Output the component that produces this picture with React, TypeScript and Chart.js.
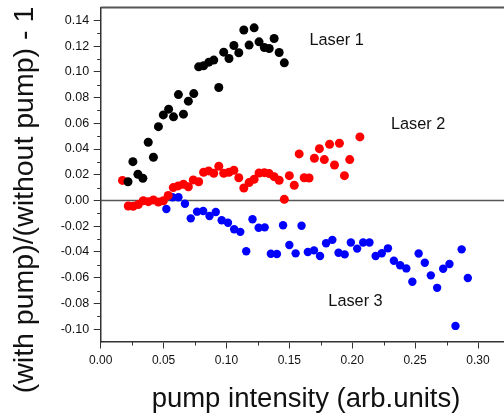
import React, { useEffect, useRef } from 'react';
import { Chart, registerables } from 'chart.js';

Chart.register(...registerables);

// ---------- data ----------
const laser1X = [0.0217, 0.0256, 0.0296, 0.0335, 0.0378, 0.0419, 0.0459, 0.0498, 0.054, 0.0579, 0.0618, 0.0658, 0.0697, 0.074, 0.0779, 0.0818, 0.086, 0.0899, 0.0939, 0.0978, 0.102, 0.1059, 0.1098, 0.1138, 0.118, 0.122, 0.1259, 0.1301, 0.134, 0.1379, 0.1419, 0.146];
const laser1Y = [0.0146, 0.0302, 0.0204, 0.0173, 0.0453, 0.0336, 0.0574, 0.0665, 0.071, 0.065, 0.0823, 0.0671, 0.0772, 0.0831, 0.1039, 0.1047, 0.1075, 0.1091, 0.0878, 0.1153, 0.1104, 0.1205, 0.1148, 0.1325, 0.1208, 0.1342, 0.1233, 0.1189, 0.1181, 0.1259, 0.115, 0.107];

const laser2X = [0.0173, 0.0219, 0.0258, 0.0299, 0.0338, 0.0379, 0.0419, 0.0459, 0.0498, 0.0537, 0.0577, 0.0616, 0.0658, 0.0697, 0.0736, 0.0779, 0.0818, 0.0858, 0.0899, 0.0939, 0.0978, 0.102, 0.1059, 0.1098, 0.1138, 0.118, 0.122, 0.1259, 0.1301, 0.134, 0.1379, 0.1419, 0.146, 0.15, 0.1539, 0.1578, 0.1618, 0.1657, 0.1699, 0.1739, 0.1778, 0.182, 0.1859, 0.1898, 0.1938, 0.198, 0.2061];
const laser2Y = [0.0156, -0.0043, -0.0045, -0.0031, -0.0002, -0.0009, 0.0004, -0.0012, -0.0002, 0.0039, 0.01, 0.0113, 0.0126, 0.0107, 0.016, 0.0146, 0.0219, 0.023, 0.0212, 0.0266, 0.0212, 0.0219, 0.0235, 0.0177, 0.0097, 0.0139, 0.0165, 0.0214, 0.0216, 0.0209, 0.0185, 0.0157, 0.0009, 0.0193, 0.0118, 0.0362, 0.0177, 0.0175, 0.0328, 0.0403, 0.0318, 0.0437, 0.0276, 0.0445, 0.0193, 0.0318, 0.0494];

const laser3X = [0.0522, 0.0571, 0.0618, 0.067, 0.0716, 0.0766, 0.0815, 0.0865, 0.0915, 0.0962, 0.1012, 0.1061, 0.111, 0.1157, 0.1207, 0.1256, 0.1304, 0.1353, 0.1401, 0.145, 0.15, 0.155, 0.1597, 0.1647, 0.1696, 0.1744, 0.1792, 0.1842, 0.1891, 0.194, 0.1989, 0.2039, 0.2087, 0.2137, 0.2186, 0.2235, 0.2284, 0.2331, 0.2381, 0.243, 0.2478, 0.2528, 0.2577, 0.2625, 0.2675, 0.2723, 0.2773, 0.2821, 0.287, 0.2919];
const laser3Y = [-0.0066, 0.0025, 0.0025, -0.0025, -0.0139, -0.0087, -0.0082, -0.0121, -0.0089, -0.0154, -0.0173, -0.0224, -0.0244, -0.0395, -0.0146, -0.0212, -0.0209, -0.0414, -0.0416, -0.0193, -0.0346, -0.0411, -0.0196, -0.0401, -0.0388, -0.0432, -0.0333, -0.0306, -0.0406, -0.0419, -0.0327, -0.0374, -0.0327, -0.0327, -0.0432, -0.041, -0.0372, -0.0468, -0.0504, -0.0528, -0.0632, -0.0412, -0.0484, -0.0582, -0.0679, -0.0531, -0.0494, -0.0975, -0.038, -0.0603];

const seriesNames = ['Laser 1', 'Laser 2', 'Laser 3'];
const seriesColors = ['#000000', '#ff0000', '#0000ff'];
// label anchors in data units (left edge, vertical middle)
const labelAnchorX = [0.166, 0.2308, 0.181];
const labelAnchorY = [0.124, 0.059, -0.0788];

const xTicks = [0, 0.05, 0.1, 0.15, 0.2, 0.25, 0.3];
const xMinorTicks = [0.025, 0.075, 0.125, 0.175, 0.225, 0.275, 0.325];
const yTicks = [-0.1, -0.08, -0.06, -0.04, -0.02, 0, 0.02, 0.04, 0.06, 0.08, 0.1, 0.12, 0.14];
const yMinorTicks = [-0.09, -0.07, -0.05, -0.03, -0.01, 0.01, 0.03, 0.05, 0.07, 0.09, 0.11, 0.13];

const xTitle = 'pump intensity (arb.units)';
const yTitle = '(with pump)/(without pump) - 1';

const FONT = '"Liberation Sans", Arial, Helvetica, sans-serif';
const CANVAS_W = 530;
const CANVAS_H = 416;

export default function App() {
  const ref = useRef<HTMLCanvasElement>(null);

  useEffect(() => {
    const canvas = ref.current;
    if (!canvas) return;
    const pts = (xs: number[], ys: number[]) => xs.map((x, i) => ({ x, y: ys[i] }));

    const decor = {
      id: 'decor',
      beforeDatasetsDraw(chart: any) {
        const { ctx, chartArea: a, scales } = chart;
        const x = scales.x;
        const y = scales.y;
        ctx.save();
        // zero line
        const y0 = y.getPixelForValue(0);
        ctx.strokeStyle = '#555';
        ctx.lineWidth = 1.5;
        ctx.beginPath();
        ctx.moveTo(a.left, y0);
        ctx.lineTo(a.right, y0);
        ctx.stroke();
        // top frame line
        ctx.strokeStyle = '#555';
        ctx.lineWidth = 2;
        ctx.beginPath();
        ctx.moveTo(a.left, a.top);
        ctx.lineTo(a.right, a.top);
        ctx.stroke();
        // minor ticks
        ctx.strokeStyle = '#333';
        ctx.lineWidth = 1;
        for (const v of xMinorTicks) {
          const px = Math.round(x.getPixelForValue(v)) + 0.5;
          if (px > a.right) continue;
          ctx.beginPath();
          ctx.moveTo(px, a.bottom);
          ctx.lineTo(px, a.bottom + 3.5);
          ctx.stroke();
        }
        for (const v of yMinorTicks) {
          const py = Math.round(y.getPixelForValue(v)) + 0.5;
          ctx.beginPath();
          ctx.moveTo(a.left - 3.5, py);
          ctx.lineTo(a.left, py);
          ctx.stroke();
        }
        ctx.restore();
      },
      afterDraw(chart: any) {
        const { ctx, scales } = chart;
        const x = scales.x;
        const y = scales.y;
        ctx.save();
        ctx.fillStyle = '#111';
        // series labels
        ctx.font = `16.3px ${FONT}`;
        ctx.textAlign = 'left';
        ctx.textBaseline = 'middle';
        seriesNames.forEach((name, i) => {
          ctx.fillText(name, x.getPixelForValue(labelAnchorX[i]), y.getPixelForValue(labelAnchorY[i]));
        });
        // axis titles
        ctx.font = `27.5px ${FONT}`;
        ctx.textAlign = 'center';
        ctx.textBaseline = 'alphabetic';
        ctx.fillText(xTitle, 306, 406.5);
        ctx.font = `28.5px ${FONT}`;
        ctx.translate(32.5, 200);
        ctx.rotate(-Math.PI / 2);
        ctx.fillText(yTitle, 0, 0);
        ctx.restore();
      },
    };

    const chart = new Chart(canvas, {
      type: 'scatter',
      data: {
        datasets: [
          { label: seriesNames[0], data: pts(laser1X, laser1Y), backgroundColor: seriesColors[0], borderWidth: 0, pointRadius: 4.5, pointHoverRadius: 4.5 },
          { label: seriesNames[1], data: pts(laser2X, laser2Y), backgroundColor: seriesColors[1], borderWidth: 0, pointRadius: 4.5, pointHoverRadius: 4.5 },
          { label: seriesNames[2], data: pts(laser3X, laser3Y), backgroundColor: seriesColors[2], borderWidth: 0, pointRadius: 4.2, pointHoverRadius: 4.2 },
        ],
      },
      options: {
        animation: false,
        responsive: false,
        events: [],
        layout: { padding: { top: 7.5, right: 0, left: 0, bottom: 0 } },
        plugins: { legend: { display: false }, tooltip: { enabled: false } },
        scales: {
          x: {
            type: 'linear',
            min: 0,
            max: (CANVAS_W - 100.7) / 1271,
            bounds: 'data',
            afterBuildTicks: (s: any) => {
              s.ticks = xTicks.map((v) => ({ value: v }));
            },
            afterFit: (s: any) => {
              s.height = 74;
              s.paddingLeft = 0;
              s.paddingRight = 0;
            },
            ticks: {
              autoSkip: false,
              maxRotation: 0,
              padding: 4.5,
              color: '#111',
              font: { family: FONT, size: 12 },
              callback: (v: any) => Number(v).toFixed(2),
            },
            grid: { display: true, drawOnChartArea: false, drawTicks: true, tickLength: 6.5, color: '#333', lineWidth: 1 },
            border: { display: true, color: '#333', width: 1.5 },
          },
          y: {
            type: 'linear',
            min: -0.11,
            max: 0.15,
            bounds: 'data',
            afterBuildTicks: (s: any) => {
              s.ticks = yTicks.map((v) => ({ value: v }));
            },
            afterFit: (s: any) => {
              s.width = 100.7;
              s.paddingTop = 0;
              s.paddingBottom = 0;
            },
            ticks: {
              autoSkip: false,
              padding: 4.5,
              color: '#111',
              font: { family: FONT, size: 12.5 },
              callback: (v: any) => Number(v).toFixed(2),
            },
            grid: { display: true, drawOnChartArea: false, drawTicks: true, tickLength: 7, color: '#333', lineWidth: 1 },
            border: { display: true, color: '#333', width: 1.5 },
          },
        },
      },
      plugins: [decor],
    });

    return () => chart.destroy();
  }, []);

  return (
    <div style={{ position: 'absolute', left: 0, top: 0, width: 504, height: 416, overflow: 'hidden', background: '#fff' }}>
      <canvas ref={ref} width={CANVAS_W} height={CANVAS_H} style={{ width: CANVAS_W, height: CANVAS_H, display: 'block' }} />
    </div>
  );
}
